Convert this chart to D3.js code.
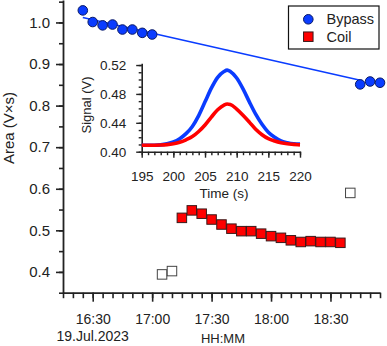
<!DOCTYPE html>
<html>
<head>
<meta charset="utf-8">
<script src="https://cdn.jsdelivr.net/npm/d3@7"></script>
<style>
  body { margin: 0; background: #fff; }
  svg { font-family: "Liberation Sans", Arial, sans-serif; }
  .axis path, .axis line { stroke: #222; }
  .axis text { fill: #222; }
</style>
</head>
<body>
<script>
var width = 387;
var height = 346;

// main chart data (area vs clock time, 19 Jul 2023)
var bypassTimes = ["16:25", "16:30", "16:35", "16:40", "16:45", "16:50", "16:55", "17:00", "18:45", "18:50", "18:55"];
var bypassArea = [1.029, 1.001, 0.993, 0.995, 0.983, 0.983, 0.975, 0.971, 0.851, 0.858, 0.855];

var coilTimes = ["17:15", "17:20", "17:25", "17:30", "17:35", "17:40", "17:45", "17:50", "17:55",
                 "18:00", "18:05", "18:10", "18:15", "18:20", "18:25", "18:30", "18:35"];
var coilArea = [0.530, 0.548, 0.540, 0.526, 0.514, 0.504, 0.498, 0.498, 0.492,
                0.486, 0.482, 0.476, 0.472, 0.474, 0.472, 0.472, 0.470];

var excludedTimes = ["17:05", "17:10", "18:40"];
var excludedArea = [0.394, 0.402, 0.590];

var fitTimes = ["16:25", "18:45"];
var fitArea = [1.012, 0.861];

// inset data (signal vs time in s)
var insetTime = [195, 196, 197, 198, 199, 200, 201, 202, 203, 204, 205, 206, 207, 208, 208.5,
                 209, 210, 211, 212, 213, 214, 215, 216, 217, 218, 219, 220];
var bypassSignal = [0.409, 0.409, 0.409, 0.4095, 0.411, 0.4135, 0.418, 0.425, 0.435, 0.450, 0.469, 0.488, 0.503, 0.511, 0.513,
                    0.511, 0.502, 0.487, 0.469, 0.452, 0.438, 0.427, 0.420, 0.4148, 0.4125, 0.411, 0.4105];
var coilSignal = [0.409, 0.409, 0.409, 0.4092, 0.4098, 0.411, 0.413, 0.4165, 0.421, 0.428, 0.437, 0.448, 0.458, 0.4645, 0.466,
                  0.4655, 0.459, 0.4505, 0.441, 0.431, 0.4235, 0.418, 0.4148, 0.4125, 0.411, 0.4102, 0.4095];

var blue = "#0a3cff";
var red = "#ff0000";

var parseT = d3.timeParse("%Y-%m-%d %H:%M");
function t(s) { return parseT("2023-07-19 " + s); }

var svg = d3.select("body").append("svg")
  .attr("width", width)
  .attr("height", height);

var x = d3.scaleTime().domain([t("16:15"), t("18:55")]).range([63, 380]);
var y = d3.scaleLinear().domain([0.35, 1.054]).range([292.7, 0]);

// main axes
var yMinor = d3.range(0.35, 1.051, 0.05);
svg.append("g").attr("class", "axis")
  .attr("transform", "translate(63,0)")
  .call(d3.axisLeft(y).tickValues(yMinor).tickSize(4).tickSizeOuter(0).tickFormat(""))
  .call(function(g) { g.select(".domain").remove(); })
  .selectAll("line").attr("stroke-width", 1.6);
svg.append("g").attr("class", "axis")
  .attr("transform", "translate(63,0)")
  .call(d3.axisLeft(y).tickValues([0.4, 0.5, 0.6, 0.7, 0.8, 0.9, 1.0]).tickSize(7).tickSizeOuter(0).tickPadding(6).tickFormat(d3.format(".1f")))
  .call(function(g) {
    g.select(".domain").attr("stroke-width", 1.8);
    g.selectAll("line").attr("stroke-width", 1.6);
    g.selectAll("text").attr("font-size", "15px");
  });

svg.append("g").attr("class", "axis")
  .attr("transform", "translate(0,292.7)")
  .call(d3.axisBottom(x).ticks(d3.timeMinute.every(5)).tickSize(5.5).tickSizeOuter(0).tickFormat(""))
  .call(function(g) { g.select(".domain").remove(); })
  .selectAll("line").attr("stroke-width", 1.6);
svg.append("g").attr("class", "axis")
  .attr("transform", "translate(0,292.7)")
  .call(d3.axisBottom(x).ticks(d3.timeMinute.every(30)).tickSize(9).tickSizeOuter(0).tickPadding(12).tickFormat(d3.timeFormat("%H:%M")))
  .call(function(g) {
    g.select(".domain").attr("stroke-width", 1.8);
    g.selectAll("line").attr("stroke-width", 1.6);
    g.selectAll("text").attr("font-size", "14px");
  });

svg.append("text")
  .attr("x", x(t("16:30"))).attr("y", 341)
  .attr("text-anchor", "middle").attr("font-size", "14px").attr("fill", "#222")
  .text("19.Jul.2023");
svg.append("text")
  .attr("x", 223).attr("y", 343)
  .attr("text-anchor", "middle").attr("font-size", "13px").attr("fill", "#222")
  .text("HH:MM");
svg.append("text")
  .attr("transform", "translate(14,128) rotate(-90)")
  .attr("text-anchor", "middle").attr("font-size", "15px").attr("fill", "#222")
  .text("Area (V×s)");

// inset
var ix = d3.scaleLinear().domain([195, 220]).range([141.7, 300]);
var iy = d3.scaleLinear().domain([0.40, 0.5224]).range([151.7, 63.3]);

svg.append("g").attr("class", "axis")
  .attr("transform", "translate(141.7,0)")
  .call(d3.axisLeft(iy).tickValues(d3.range(0.40, 0.5205, 0.01)).tickSize(3).tickSizeOuter(0).tickFormat(""))
  .call(function(g) { g.select(".domain").remove(); })
  .selectAll("line").attr("stroke-width", 1.4);
svg.append("g").attr("class", "axis")
  .attr("transform", "translate(141.7,0)")
  .call(d3.axisLeft(iy).tickValues([0.40, 0.44, 0.48, 0.52]).tickSize(5.5).tickSizeOuter(0).tickPadding(10).tickFormat(d3.format(".2f")))
  .call(function(g) {
    g.select(".domain").attr("stroke-width", 1.6);
    g.selectAll("line").attr("stroke-width", 1.4);
    g.selectAll("text").attr("font-size", "13.5px");
  });

svg.append("g").attr("class", "axis")
  .attr("transform", "translate(0,151.7)")
  .call(d3.axisBottom(ix).tickValues(d3.range(195, 221, 1)).tickSize(3.5).tickSizeOuter(0).tickFormat(""))
  .call(function(g) { g.select(".domain").remove(); })
  .selectAll("line").attr("stroke-width", 1.4);
svg.append("g").attr("class", "axis")
  .attr("transform", "translate(0,151.7)")
  .call(d3.axisBottom(ix).tickValues([195, 200, 205, 210, 215, 220]).tickSize(6).tickSizeOuter(0).tickPadding(14))
  .call(function(g) {
    g.select(".domain").attr("stroke-width", 1.6);
    g.selectAll("line").attr("stroke-width", 1.4);
    g.selectAll("text").attr("font-size", "13.5px");
  });

svg.append("text")
  .attr("x", 224).attr("y", 197.5)
  .attr("text-anchor", "middle").attr("font-size", "13.5px").attr("fill", "#222")
  .text("Time (s)");
svg.append("text")
  .attr("transform", "translate(91,105) rotate(-90)")
  .attr("text-anchor", "middle").attr("font-size", "13px").attr("fill", "#222")
  .text("Signal (V)");

var insetLine = function(vals) {
  return d3.line()
    .x(function(d, i) { return ix(insetTime[i]); })
    .y(function(d) { return iy(d); })
    .curve(d3.curveMonotoneX)(vals);
};
svg.append("path").attr("d", insetLine(bypassSignal))
  .attr("fill", "none").attr("stroke", blue).attr("stroke-width", 3.6);
svg.append("path").attr("d", insetLine(coilSignal))
  .attr("fill", "none").attr("stroke", red).attr("stroke-width", 3.6);

// fit line
svg.append("line")
  .attr("x1", x(t(fitTimes[0]))).attr("y1", y(fitArea[0]))
  .attr("x2", x(t(fitTimes[1]))).attr("y2", y(fitArea[1]))
  .attr("stroke", blue).attr("stroke-width", 1.5);

// markers
var sq = 9.5;
svg.selectAll("rect.excl").data(excludedTimes)
  .enter().append("rect")
    .attr("class", "excl")
    .attr("x", function(d) { return x(t(d)) - sq/2; })
    .attr("y", function(d, i) { return y(excludedArea[i]) - sq/2; })
    .attr("width", sq).attr("height", sq)
    .attr("fill", "#fff").attr("stroke", "#444").attr("stroke-width", 1);

svg.selectAll("rect.coil").data(coilTimes)
  .enter().append("rect")
    .attr("class", "coil")
    .attr("x", function(d) { return x(t(d)) - sq/2; })
    .attr("y", function(d, i) { return y(coilArea[i]) - sq/2; })
    .attr("width", sq).attr("height", sq)
    .attr("fill", red).attr("stroke", "#3a1a1a").attr("stroke-width", 1);

svg.selectAll("circle.bypass").data(bypassTimes)
  .enter().append("circle")
    .attr("class", "bypass")
    .attr("cx", function(d) { return x(t(d)); })
    .attr("cy", function(d, i) { return y(bypassArea[i]); })
    .attr("r", 4.8)
    .attr("fill", blue).attr("stroke", "#0a1a66").attr("stroke-width", 1);

// legend
var legend = svg.append("g");
legend.append("rect")
  .attr("x", 288.5).attr("y", 6).attr("width", 90.5).attr("height", 43)
  .attr("fill", "#fff").attr("stroke", "#111").attr("stroke-width", 1.2);
legend.append("circle").attr("cx", 308.3).attr("cy", 19.3).attr("r", 4.8)
  .attr("fill", blue).attr("stroke", "#0a1a66");
legend.append("rect").attr("x", 308.3 - sq/2).attr("y", 36.7 - sq/2).attr("width", sq).attr("height", sq)
  .attr("fill", red).attr("stroke", "#3a1a1a");
legend.append("text").attr("x", 326.5).attr("y", 24.3).attr("font-size", "14.5px").attr("fill", "#222").text("Bypass");
legend.append("text").attr("x", 326.5).attr("y", 41.8).attr("font-size", "14.5px").attr("fill", "#222").text("Coil");
</script>
</body>
</html>
